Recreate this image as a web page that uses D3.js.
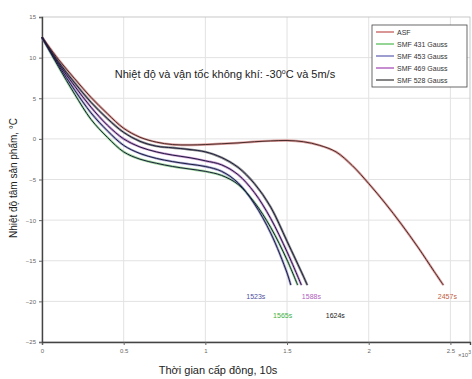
<!DOCTYPE html>
<html>
<head>
<meta charset="utf-8" />
<title></title>
<style>
html, body {
    padding: 0px;
    margin: 0px;
    background: #fff;
}
svg { display: block; font-family: "Liberation Sans", Arial, sans-serif; }
.grid line { stroke: #e2e2e2; }
.tick text { fill: #666; font-size: 6px; }
</style>
</head>
<body>
<div id="chart"></div>
<script src="https://cdnjs.cloudflare.com/ajax/libs/d3/7.8.5/d3.min.js"></script>
<script>
!(function(){
    "use strict";

    // time in seconds, centre temperature in degC
    var seriesNames = ["ASF", "SMF 431 Gauss", "SMF 453 Gauss", "SMF 469 Gauss", "SMF 528 Gauss"];
    var seriesColors = ["#c0504d", "#4cb84c", "#5b5bb0", "#a040b0", "#333333"];

    var asf = [[0,12.5],[100,9.8],[200,7.4],[300,5.1],[400,3.1],[500,1.3],[600,0.2],[700,-0.4],[800,-0.7],
        [900,-0.75],[1000,-0.7],[1100,-0.6],[1200,-0.5],[1300,-0.35],[1400,-0.25],[1500,-0.2],[1600,-0.35],
        [1700,-0.8],[1800,-1.6],[1900,-3.3],[2000,-5.5],[2100,-7.9],[2200,-10.5],[2300,-13.3],[2400,-16.3],[2457,-18]];
    var smf431 = [[0,12.5],[100,8.9],[200,5.5],[300,2.4],[400,0.2],[500,-1.6],[600,-2.5],[700,-3.0],[800,-3.4],
        [900,-3.7],[1000,-4.0],[1100,-4.5],[1200,-5.6],[1300,-7.8],[1400,-10.9],[1500,-14.9],[1565,-18]];
    var smf453 = [[0,12.5],[100,9.1],[200,6.0],[300,3.2],[400,1.0],[500,-0.8],[600,-1.8],[700,-2.4],[800,-2.8],
        [900,-3.1],[1000,-3.4],[1100,-4.0],[1200,-5.4],[1300,-8.0],[1400,-11.6],[1500,-16.5],[1523,-18]];
    var smf469 = [[0,12.5],[100,9.3],[200,6.5],[300,3.9],[400,1.7],[500,0.0],[600,-1.0],[700,-1.6],[800,-2.0],
        [900,-2.3],[1000,-2.7],[1100,-3.2],[1200,-4.4],[1300,-6.6],[1400,-9.8],[1500,-13.9],[1588,-18]];
    var smf528 = [[0,12.5],[100,9.5],[200,6.9],[300,4.5],[400,2.5],[500,0.8],[600,-0.3],[700,-0.9],[800,-1.1],
        [900,-1.3],[1000,-1.6],[1100,-2.3],[1200,-3.5],[1300,-5.5],[1400,-8.4],[1500,-12.6],[1600,-16.9],[1624,-18]];

    var endLabels = ["2457s", "1565s", "1523s", "1588s", "1624s"];
    var endLabelColors = ["#c06040", "#40b040", "#5050a0", "#b060c0", "#222222"];

    var xTicks = [0, 0.5, 1, 1.5, 2, 2.5];
    var yTicks = [15, 10, 5, 0, -5, -10, -15, -20, -25];

    var allSeries = [asf, smf431, smf453, smf469, smf528];

    var W = 472, H = 379;
    var m = {left: 42, top: 17, right: 2, bottom: 37};

    var svg = d3.select("#chart").append("svg")
        .attr("width", W).attr("height", H);

    var x = d3.scaleLinear().domain([0, 2.62]).range([m.left, W - m.right]);
    var y = d3.scaleLinear().domain([-25, 15]).range([H - m.bottom, m.top]);

    // grid
    svg.append("g").attr("class", "grid")
        .selectAll("line.v").data(xTicks.slice(1)).enter().append("line")
        .attr("x1", function(d){ return x(d); }).attr("x2", function(d){ return x(d); })
        .attr("y1", y(15)).attr("y2", y(-25));
    svg.append("g").attr("class", "grid")
        .selectAll("line.h").data(yTicks.slice(1, -1)).enter().append("line")
        .attr("x1", x(0)).attr("x2", x(2.62))
        .attr("y1", function(d){ return y(d); }).attr("y2", function(d){ return y(d); });

    // frame
    svg.append("rect")
        .attr("x", x(0)).attr("y", y(15))
        .attr("width", x(2.62) - x(0)).attr("height", y(-25) - y(15))
        .attr("fill", "none").attr("stroke", "#bbb").attr("stroke-width", 0.8);

    var xAxis = svg.append("g")
        .attr("transform", "translate(0," + y(-25) + ")")
        .call(d3.axisBottom(x).tickValues(xTicks).tickSize(3).tickPadding(4)
            .tickFormat(function(d){ return d === 0 ? "0" : d3.format("")(d); }));
    var yAxis = svg.append("g")
        .attr("transform", "translate(" + x(0) + ",0)")
        .call(d3.axisLeft(y).tickValues(yTicks).tickSize(3).tickPadding(3));
    [xAxis, yAxis].forEach(function(a){
        a.select(".domain").attr("stroke", "#444").attr("stroke-width", 1.4);
        a.selectAll(".tick line").attr("stroke", "#666");
    });

    svg.append("text")
        .attr("x", W - 14).attr("y", H - 22)
        .attr("font-size", 6).attr("fill", "#666")
        .text("\u00d710").append("tspan").attr("dy", -3).attr("font-size", 5).text("3");

    // curves
    var line = d3.line()
        .x(function(d){ return x(d[0] / 1000); })
        .y(function(d){ return y(d[1]); })
        .curve(d3.curveCatmullRom.alpha(0.5));

    svg.append("g").selectAll("path.c").data(allSeries).enter().append("path")
        .attr("d", line)
        .attr("fill", "none")
        .attr("stroke", function(d, i){ return seriesColors[i]; })
        .attr("stroke-width", 2.4)
        .attr("stroke-opacity", 0.55);
    svg.append("g").selectAll("path.k").data(allSeries).enter().append("path")
        .attr("d", line)
        .attr("fill", "none")
        .attr("stroke", function(d, i){ return i === 0 ? "#4a2b2b" : "#1c1c3c"; })
        .attr("stroke-width", 1);

    // end-time labels
    var labelPos = [[4, 299], [-15, 318], [-35, 299], [10, 299], [28, 318]];
    svg.append("g").selectAll("text").data(allSeries).enter().append("text")
        .attr("x", function(d, i){ return x(d[d.length - 1][0] / 1000) + labelPos[i][0]; })
        .attr("y", function(d, i){ return labelPos[i][1]; })
        .attr("text-anchor", "middle")
        .attr("font-size", 7)
        .attr("fill", function(d, i){ return endLabelColors[i]; })
        .text(function(d, i){ return endLabels[i]; });

    // title inside plot
    var title = svg.append("text")
        .attr("x", 225).attr("y", 78)
        .attr("text-anchor", "middle")
        .attr("font-size", 11).attr("fill", "#222");
    title.append("tspan").text("Nhiệt độ và vận tốc không khí: -30");
    title.append("tspan").attr("dy", -4).attr("font-size", 7).text("o");
    title.append("tspan").attr("dy", 4).text("C và 5m/s");

    // legend
    var lg = svg.append("g").attr("transform", "translate(372,25)");
    lg.append("rect").attr("width", 95).attr("height", 62)
        .attr("fill", "#fff").attr("stroke", "#444").attr("stroke-width", 0.8);
    var items = lg.selectAll("g").data(seriesNames).enter().append("g")
        .attr("transform", function(d, i){ return "translate(0," + (7 + i * 12) + ")"; });
    items.append("line").attr("x1", 4).attr("x2", 22)
        .attr("stroke", function(d, i){ return seriesColors[i]; }).attr("stroke-width", 1.2);
    items.append("text").attr("x", 25).attr("y", 2.5)
        .attr("font-size", 7).attr("fill", "#333").text(function(d){ return d; });

    // axis titles
    svg.append("text")
        .attr("transform", "translate(17," + 178 + ") rotate(-90)")
        .attr("text-anchor", "middle").attr("font-size", 10).attr("fill", "#222")
        .text("Nhiệt độ tâm sản phẩm, \u00b0C");
    svg.append("text")
        .attr("x", 218).attr("y", 374)
        .attr("text-anchor", "middle").attr("font-size", 11).attr("fill", "#222")
        .text("Thời gian cấp đông, 10s");
}());
</script>
</body>
</html>
